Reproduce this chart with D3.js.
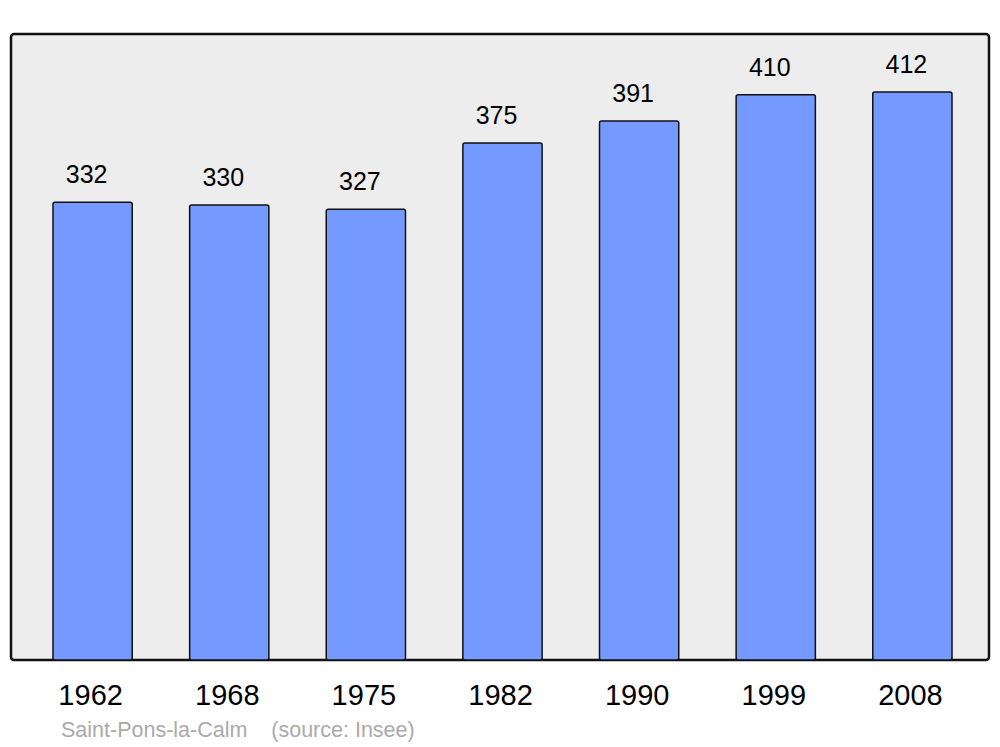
<!DOCTYPE html>
<html>
<head>
<meta charset="utf-8">
<script src="https://cdn.jsdelivr.net/npm/d3@7"></script>
<style>
  body { margin: 0; background: #fff; }
  text { font-family: "Liberation Sans", Arial, sans-serif; }
</style>
</head>
<body>
<div id="chart"></div>
<script>
// data
var years = ["1962", "1968", "1975", "1982", "1990", "1999", "2008"];
var population = [332, 330, 327, 375, 391, 410, 412];
var town = "Saint-Pons-la-Calm";
var source = "(source: Insee)";

var width = 1000,
    height = 747;

var svg = d3.select("#chart").append("svg")
    .attr("width", width)
    .attr("height", height);

// background panel
svg.append("rect")
    .attr("x", 11)
    .attr("y", 34)
    .attr("width", 978)
    .attr("height", 626)
    .attr("rx", 3)
    .attr("fill", "#ededed")
    .attr("stroke", "#111")
    .attr("stroke-width", 2.5);

var x = d3.scaleBand()
    .domain(years)
    .range([53, 952])
    .paddingInner(0.42)
    .paddingOuter(0);

var y = d3.scaleLinear()
    .domain([0, 412])
    .range([660, 92]);

var bars = svg.append("g").attr("class", "bars");

bars.selectAll("rect")
    .data(population)
    .enter()
    .append("rect")
    .attr("x", function(d, i) { return x(years[i]); })
    .attr("y", function(d) { return y(d); })
    .attr("width", x.bandwidth())
    .attr("height", function(d) { return y(0) - y(d); })
    .attr("rx", 2)
    .attr("fill", "#7499ff")
    .attr("stroke", "#111")
    .attr("stroke-width", 1.5);

// value labels
bars.selectAll("text")
    .data(population)
    .enter()
    .append("text")
    .attr("x", function(d, i) { return x(years[i]) + x.bandwidth() / 2 - 6; })
    .attr("y", function(d) { return y(d) - 19; })
    .attr("text-anchor", "middle")
    .attr("font-size", 25)
    .attr("fill", "#000")
    .text(function(d) { return d; });

// year axis
var xAxis = svg.append("g")
    .attr("transform", "translate(0,660)")
    .call(d3.axisBottom(x).tickSize(0).tickPadding(0));
xAxis.select(".domain").remove();
xAxis.selectAll("text")
    .attr("dy", 0)
    .attr("y", 45)
    .attr("x", -2)
    .attr("font-size", 29)
    .attr("font-family", "Liberation Sans, Arial, sans-serif")
    .attr("fill", "#000");

// footer
svg.append("text")
    .attr("x", 61)
    .attr("y", 737)
    .attr("font-size", 21.5)
    .attr("fill", "#aaa")
    .attr("xml:space", "preserve")
    .text(town + "    " + source);
</script>
</body>
</html>
